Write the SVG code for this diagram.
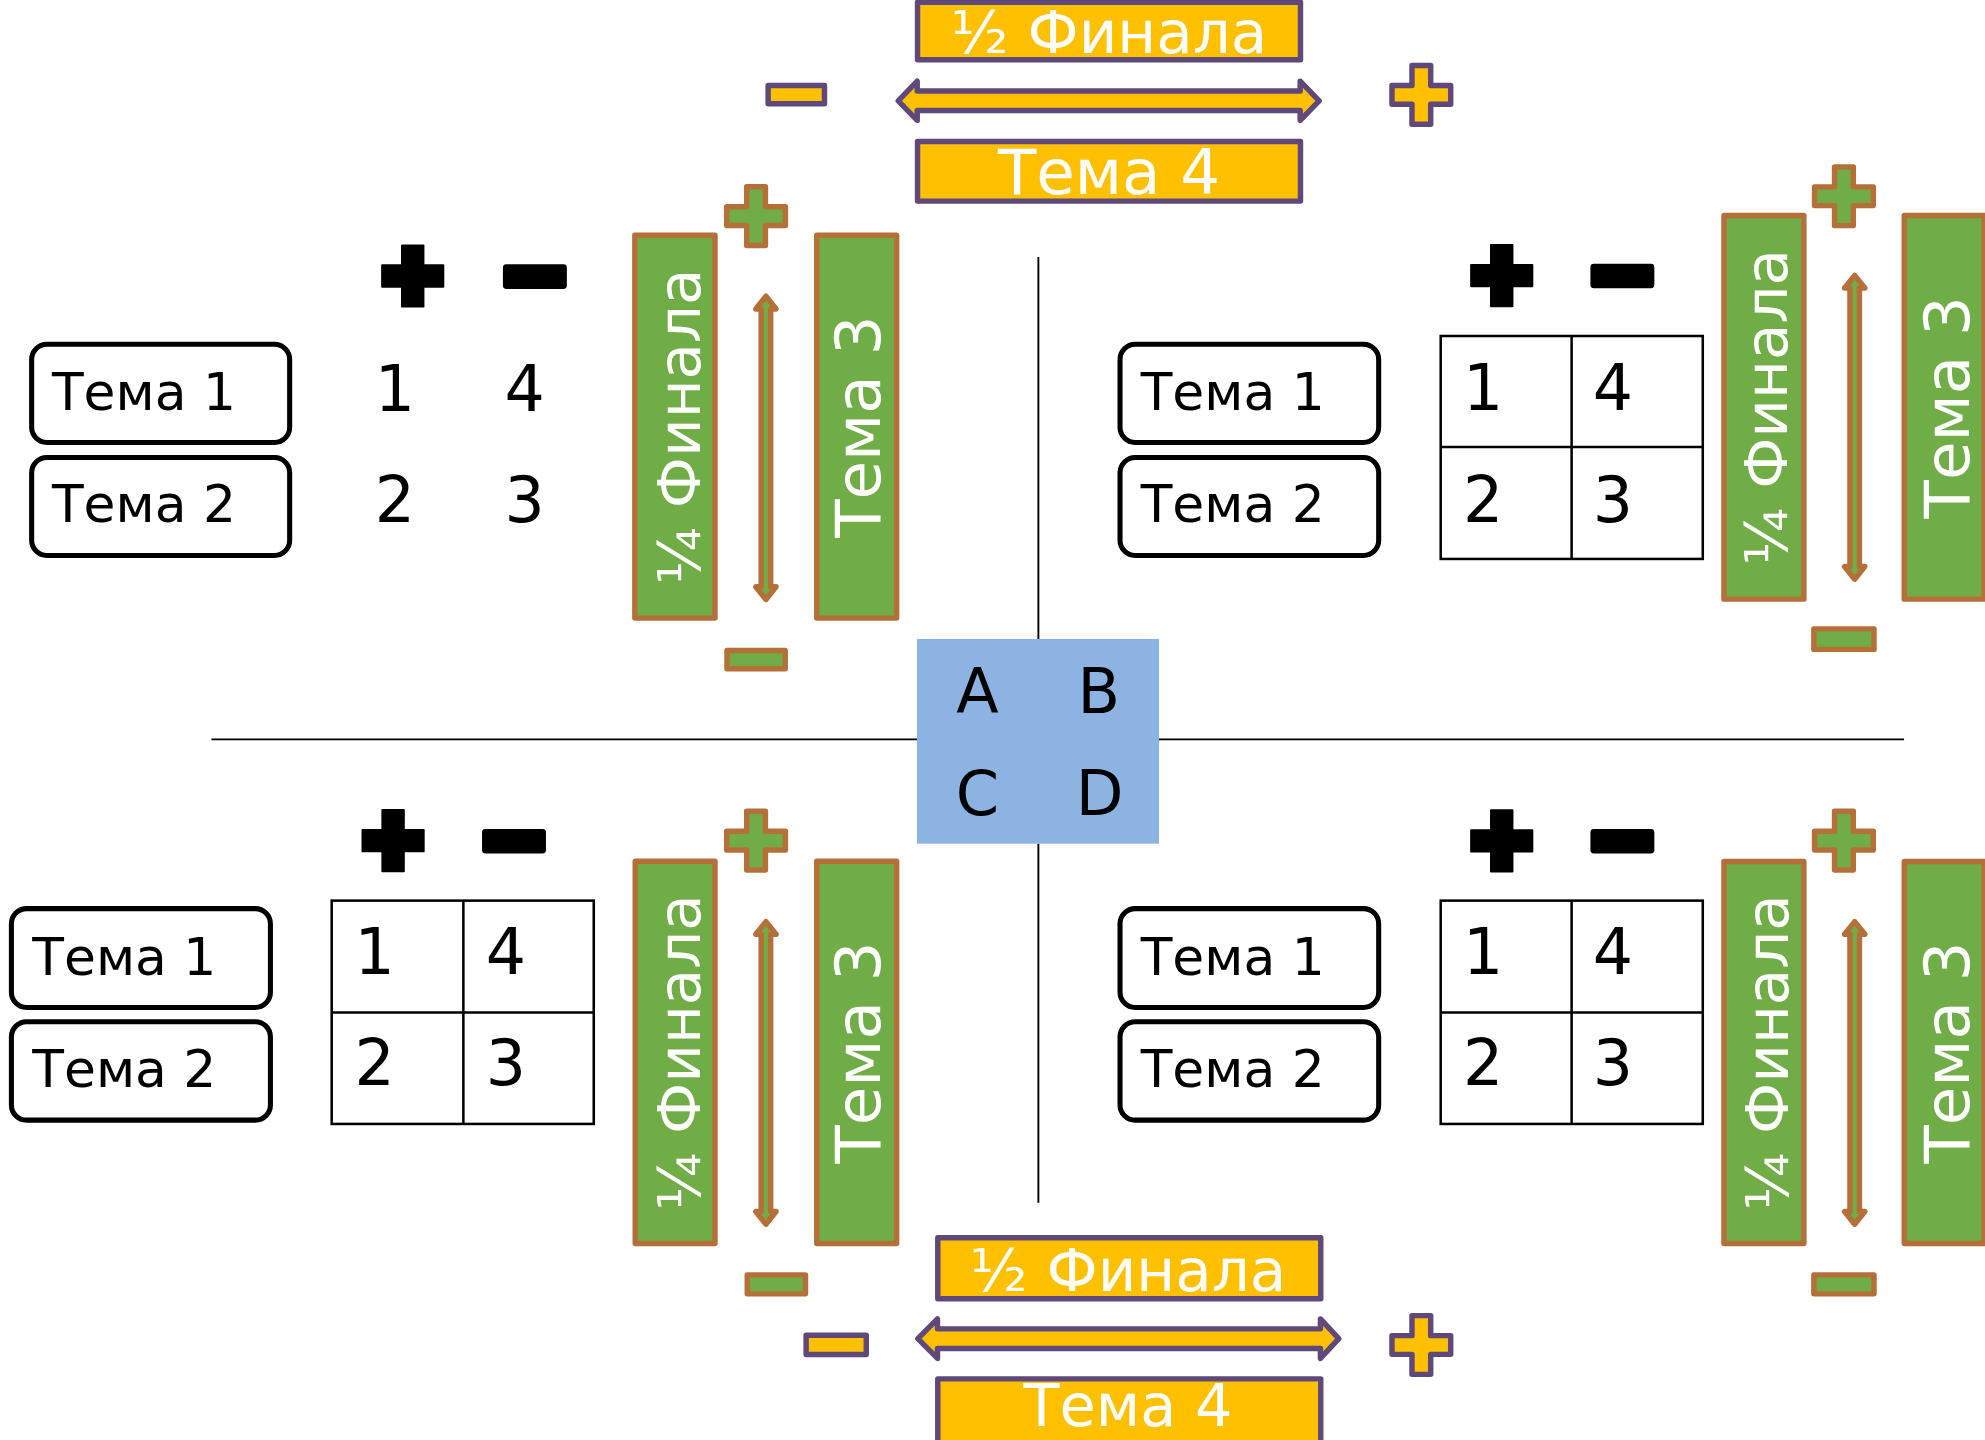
<svg xmlns="http://www.w3.org/2000/svg" width="1985" height="1440" viewBox="0 0 1985 1440">
<defs>
<style>
.yb{fill:#FFC000;stroke:#5F497A;stroke-width:4.3;stroke-linejoin:round}
.gb{fill:#70AD47;stroke:#B5703A;stroke-width:4.3;stroke-linejoin:round}
.tb{fill:#fff;stroke:#000;stroke-width:4}
.tab{fill:none;stroke:#000;stroke-width:2}
.ln{stroke:#000;stroke-width:1.5;fill:none}
.blk{fill:#000;stroke:#000;stroke-width:1.5;stroke-linejoin:round}
.wt{fill:#fff;font-family:"DejaVu Sans",sans-serif}
.bt{fill:#000;font-family:"DejaVu Sans",sans-serif}
.f47{font-size:47px;text-anchor:middle}
.f49{font-size:49.5px;text-anchor:middle}
.tema{font-size:41px}
.num{font-size:50px;text-anchor:middle}
</style>
<path id="plus" d="M-7.4,-23.2H7.4V-7.4H23.2V7.4H7.4V23.2H-7.4V7.4H-23.2V-7.4H-7.4Z"/>
<path id="bplus" d="M-8.5,-24.2H8.5V-8.5H24.2V8.5H8.5V24.2H-8.5V8.5H-24.2V-8.5H-8.5Z"/>
</defs>
<rect width="1985" height="1440" fill="#fff"/>
<g transform="scale(1.266)">

<g id="dividers">
<line class="ln" x1="820.2" y1="203" x2="820.2" y2="504.7"/>
<line class="ln" x1="820.2" y1="666.4" x2="820.2" y2="950"/>
<line class="ln" x1="167" y1="584" x2="724.3" y2="584"/>
<line class="ln" x1="915.5" y1="584" x2="1504" y2="584"/>
</g>

<g id="center-abcd">
<rect x="724.3" y="504.7" width="191.2" height="161.7" fill="#8DB3E2"/>
<text class="bt num" x="772" y="563" style="font-size:49px">A</text>
<text class="bt num" x="868" y="563" style="font-size:49px">B</text>
<text class="bt num" x="772" y="643.5" style="font-size:49px">C</text>
<text class="bt num" x="868.5" y="643.5" style="font-size:49px">D</text>
</g>

<g id="connectors">
<path class="yb" d="M709.5,79.6 L724.5,64.1 V71.85 H1027 V64.1 L1042,79.6 L1027,95.1 V87.35 H724.5 V95.1 Z"/>
<path class="yb" d="M725,1057.4 L740.5,1041.8 V1049.65 H1043 V1041.8 L1057.5,1057.4 L1043,1073 V1065.15 H740.5 V1073 Z"/>
<path class="gb" d="M605,234 L613,244 H608.75 V463.5 H613 L605,473.5 L597,463.5 H601.25 V244 H597 Z"/>
<path class="gb" d="M1465,217.5 L1473,227.5 H1468.75 V447.5 H1473 L1465,457.5 L1457,447.5 H1461.25 V227.5 H1457 Z"/>
<path class="gb" d="M605,728 L613,738 H608.75 V957 H613 L605,967 L597,957 H601.25 V738 H597 Z"/>
<path class="gb" d="M1465,728 L1473,738 H1468.75 V957 H1473 L1465,967 L1457,957 H1461.25 V738 H1457 Z"/>
</g>

<g id="top-semifinal">
<rect class="yb" x="724.75" y="1.75" width="302.5" height="45.5"/>
<text class="wt f47" x="876" y="41.6">½ Финала</text>
<rect class="yb" x="606.75" y="67.55" width="44.5" height="14.4"/>
<use href="#plus" class="yb" x="1122.7" y="75"/>
<rect class="yb" x="724.75" y="111.75" width="302.5" height="47.1"/>
<text class="wt f49" x="876" y="153">Тема 4</text>
</g>

<g id="bottom-semifinal">
<rect class="yb" x="740.75" y="977.75" width="302.5" height="48.1"/>
<text class="wt f47" x="891" y="1020">½ Финала</text>
<rect class="yb" x="636.75" y="1054.75" width="47.5" height="15.1"/>
<use href="#plus" class="yb" x="1122.7" y="1062.4"/>
<rect class="yb" x="740.75" y="1089.15" width="302.5" height="52"/>
<text class="wt f49" x="891" y="1126" style="font-size:46.5px">Тема 4</text>
</g>

<g id="quadrant-a">
<use href="#bplus" class="blk" x="326" y="218"/>
<rect class="blk" x="398" y="209.5" width="49" height="18" rx="2"/>
<rect class="tb" x="25" y="271.9" width="203.8" height="77.6" rx="12"/>
<text class="bt tema" x="41" y="323.8">Тема 1</text>
<rect class="tb" x="25" y="361.4" width="203.8" height="77.4" rx="12"/>
<text class="bt tema" x="41" y="412">Тема 2</text>
<text class="bt num" x="312" y="324.4">1</text>
<text class="bt num" x="414.5" y="324.4">4</text>
<text class="bt num" x="312" y="412">2</text>
<text class="bt num" x="414.5" y="412">3</text>
<rect class="gb" x="501.45" y="185.75" width="63.3" height="302.5"/>
<text class="wt f47" transform="translate(553,337) rotate(-90)">¼ Финала</text>
<use href="#plus" class="gb" x="597.2" y="170.7"/>
<rect class="gb" x="645.15" y="185.75" width="63.1" height="302.5"/>
<text class="wt f49" transform="translate(695,337) rotate(-90)">Тема 3</text>
<rect class="gb" x="574.25" y="513.75" width="46" height="14.5"/>
</g>

<g id="quadrant-b">
<use href="#bplus" class="blk" x="1186.2" y="217.7"/>
<rect class="blk" x="1257" y="209" width="49" height="18" rx="2"/>
<rect class="tb" x="884.7" y="271.9" width="204.3" height="77.6" rx="12"/>
<text class="bt tema" x="901" y="323.8">Тема 1</text>
<rect class="tb" x="884.7" y="361.4" width="204.3" height="77.4" rx="12"/>
<text class="bt tema" x="901" y="412">Тема 2</text>
<rect class="tab" x="1138" y="265.4" width="207" height="176.1"/>
<line class="tab" x1="1241.4" y1="265.4" x2="1241.4" y2="441.5"/>
<line class="tab" x1="1138" y1="353" x2="1345" y2="353"/>
<text class="bt num" x="1171.5" y="323.8">1</text>
<text class="bt num" x="1274" y="323.8">4</text>
<text class="bt num" x="1171.5" y="412">2</text>
<text class="bt num" x="1274" y="412">3</text>
<rect class="gb" x="1361.75" y="170.15" width="63.1" height="303.1"/>
<text class="wt f47" transform="translate(1411.6,321.7) rotate(-90)">¼ Финала</text>
<use href="#plus" class="gb" x="1456.5" y="155"/>
<rect class="gb" x="1504.15" y="170.15" width="63.1" height="303.1"/>
<text class="wt f49" transform="translate(1555,321.7) rotate(-90)">Тема 3</text>
<rect class="gb" x="1432.75" y="496.75" width="47.5" height="16.2"/>
</g>

<g id="quadrant-c">
<use href="#bplus" class="blk" x="310.5" y="664"/>
<rect class="blk" x="381.5" y="655.5" width="49" height="18" rx="2"/>
<rect class="tb" x="9" y="717.7" width="204.6" height="78.1" rx="12"/>
<text class="bt tema" x="25.5" y="770">Тема 1</text>
<rect class="tb" x="9" y="807" width="204.6" height="77.8" rx="12"/>
<text class="bt tema" x="25.5" y="858.7">Тема 2</text>
<rect class="tab" x="262" y="711.4" width="207" height="176.4"/>
<line class="tab" x1="366" y1="711.4" x2="366" y2="887.8"/>
<line class="tab" x1="262" y1="799.7" x2="469" y2="799.7"/>
<text class="bt num" x="296" y="769.4">1</text>
<text class="bt num" x="399.5" y="769.4">4</text>
<text class="bt num" x="296" y="857">2</text>
<text class="bt num" x="399.5" y="857">3</text>
<rect class="gb" x="501.75" y="680.35" width="63" height="301.9"/>
<text class="wt f47" transform="translate(553,831.3) rotate(-90)">¼ Финала</text>
<use href="#plus" class="gb" x="597.2" y="664"/>
<rect class="gb" x="645.15" y="680.35" width="63.1" height="301.9"/>
<text class="wt f49" transform="translate(695,831.3) rotate(-90)">Тема 3</text>
<rect class="gb" x="590.25" y="1007" width="46" height="15"/>
</g>

<g id="quadrant-d">
<use href="#bplus" class="blk" x="1186.2" y="664.2"/>
<rect class="blk" x="1257" y="655.5" width="49" height="18" rx="2"/>
<rect class="tb" x="884.7" y="717.7" width="204.3" height="78.1" rx="12"/>
<text class="bt tema" x="901" y="770">Тема 1</text>
<rect class="tb" x="884.7" y="807" width="204.3" height="77.8" rx="12"/>
<text class="bt tema" x="901" y="858.7">Тема 2</text>
<rect class="tab" x="1138" y="711.4" width="207" height="176.4"/>
<line class="tab" x1="1241.4" y1="711.4" x2="1241.4" y2="887.8"/>
<line class="tab" x1="1138" y1="799.7" x2="1345" y2="799.7"/>
<text class="bt num" x="1171.5" y="769.4">1</text>
<text class="bt num" x="1274" y="769.4">4</text>
<text class="bt num" x="1171.5" y="857">2</text>
<text class="bt num" x="1274" y="857">3</text>
<rect class="gb" x="1361.75" y="680.45" width="63.1" height="301.8"/>
<text class="wt f47" transform="translate(1412,831.3) rotate(-90)">¼ Финала</text>
<use href="#plus" class="gb" x="1456.5" y="664"/>
<rect class="gb" x="1504.15" y="680.45" width="63.1" height="301.8"/>
<text class="wt f49" transform="translate(1555,831.3) rotate(-90)">Тема 3</text>
<rect class="gb" x="1432.75" y="1007" width="47.5" height="15"/>
</g>

</g>
</svg>
